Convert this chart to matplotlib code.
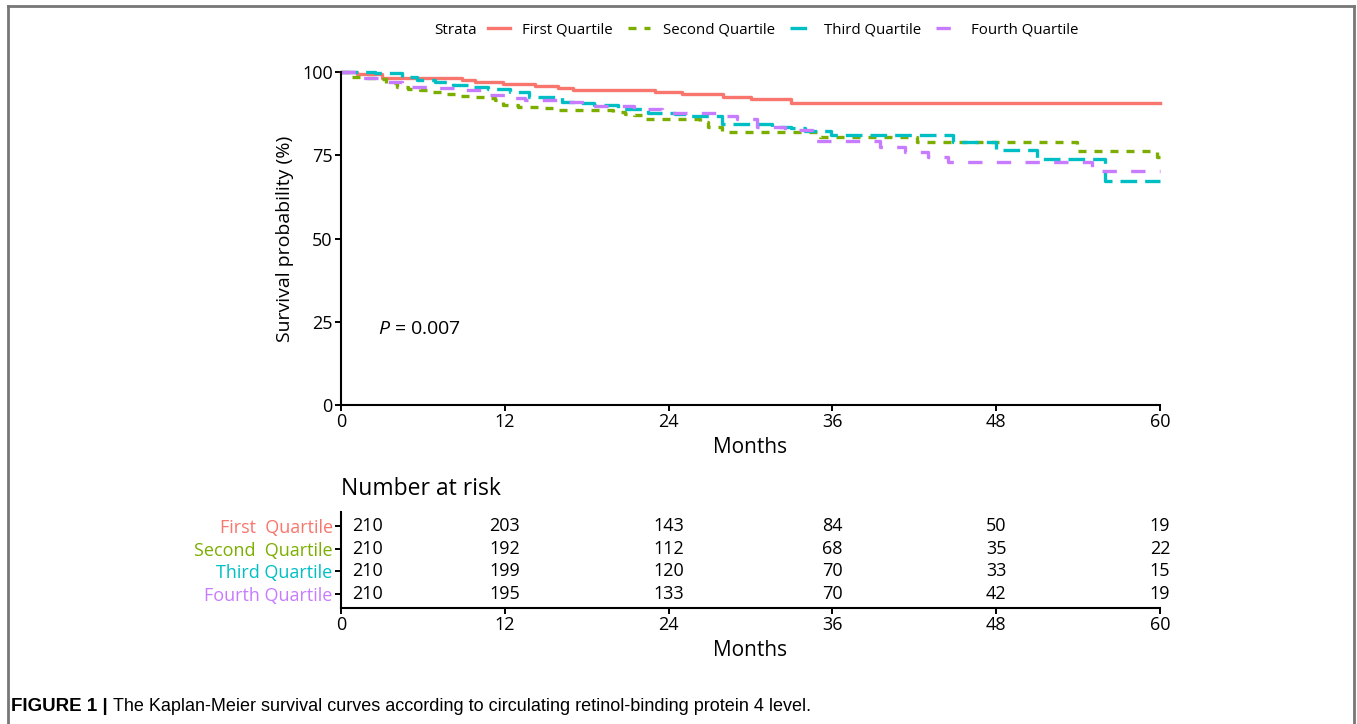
import matplotlib
matplotlib.use("Agg")
import matplotlib.pyplot as plt
from matplotlib.lines import Line2D

plt.rcParams['font.family'] = ['Open Sans', 'DejaVu Sans']
plt.rcParams['mathtext.fontset'] = 'custom'
plt.rcParams['mathtext.it'] = 'Open Sans:italic'
plt.rcParams['mathtext.rm'] = 'Open Sans'

# --- data ---
strata = ["First Quartile", "Second Quartile", "Third Quartile", "Fourth Quartile"]
risk_labels = ["First  Quartile", "Second  Quartile", "Third Quartile", "Fourth Quartile"]
colors = ["#F8766D", "#7CAE00", "#00BFC4", "#C77CFF"]

t_q1 = [0, 1.2, 3, 8.9, 9.8, 11.9, 14.2, 15.9, 17, 23, 25, 28, 30, 33, 60]
s_q1 = [100, 99.4, 98.1, 97.6, 97.1, 96.4, 95.8, 95.3, 94.6, 93.9, 93.3, 92.6, 91.8, 90.8, 90.8]

t_q2 = [0, 0.8, 1.7, 2.7, 3.3, 4.1, 4.9, 5.8, 6.7, 7.7, 8.5, 9.5, 10.5, 11.3, 11.9, 13, 14.5,
        15.8, 19.9, 20.8, 21.5, 22.3, 26.3, 26.9, 27.9, 35.1, 42.2, 53.9, 59.8, 60]
s_q2 = [100, 98.6, 98.3, 97.9, 96.6, 95.6, 94.8, 94.6, 93.9, 93.3, 92.9, 92.4, 92.1, 91.6, 90.1, 89.6, 89.1,
        88.6, 88.1, 87.3, 87.1, 85.9, 85.1, 83.6, 81.9, 80.6, 78.9, 76.4, 74.6, 74.6]

t_q3 = [0, 2.5, 4.5, 5.6, 6.9, 8.2, 9.6, 10.8, 12.4, 13.8, 16.2, 17.2, 18.5, 20.3, 22.5, 24.5,
        25.6, 27.9, 31.6, 33.0, 34.0, 35.9, 44.8, 48, 51, 56, 60]
s_q3 = [100, 99.6, 98.6, 97.6, 96.9, 96.1, 95.4, 94.9, 94.1, 92.6, 91.1, 90.6, 90.1, 88.8, 87.8, 87.3,
        86.9, 84.5, 83.6, 83.3, 82.3, 81.1, 78.9, 76.6, 73.8, 67.3, 67.3]

t_q4 = [0, 1.6, 3.4, 4.5, 6.5, 8.5, 10.5, 12.7, 13.5, 16, 17.8, 21.5, 23.5, 27.5, 29, 30.5,
        32.5, 34.8, 39.5, 41.3, 43, 44.5, 55, 60]
s_q4 = [100, 98.1, 97.1, 95.6, 95.1, 94.6, 93.1, 92.1, 91.6, 90.9, 89.9, 88.8, 87.6, 86.8, 85.9, 83.4,
        82.6, 79.3, 77.6, 76.1, 74.6, 73.1, 70.4, 70.4]

risk_times = [0, 12, 24, 36, 48, 60]
risk_q1 = [210, 203, 143, 84, 50, 19]
risk_q2 = [210, 192, 112, 68, 35, 22]
risk_q3 = [210, 199, 120, 70, 33, 15]
risk_q4 = [210, 195, 133, 70, 42, 19]

p_text = "$P$ = 0.007"
caption_bold = "FIGURE 1 |"
caption = "The Kaplan-Meier survival curves according to circulating retinol-binding protein 4 level."

times = [t_q1, t_q2, t_q3, t_q4]
survs = [s_q1, s_q2, s_q3, s_q4]
risks = [risk_q1, risk_q2, risk_q3, risk_q4]
dashes = [None, (2.4, 2.4), (5.0, 2.4), (4.3, 4.3)]

W, H = 1357, 724
fig = plt.figure(figsize=(W / 100, H / 100), dpi=100)

def px_axes(x0, y0, x1, y1):
    return fig.add_axes([x0 / W, 1 - y1 / H, (x1 - x0) / W, (y1 - y0) / H])

def style(ax):
    for side in ("top", "right"):
        ax.spines[side].set_visible(False)
    for side in ("left", "bottom"):
        ax.spines[side].set_linewidth(1.5)
    ax.tick_params(length=4, width=1.4, labelsize=13, pad=2)

# --- survival curves ---
ax = px_axes(341, 72, 1160, 405)
for t, s, c, d in zip(times, survs, colors, dashes):
    ln, = ax.step(t, s, where="post", color=c, lw=2.4, clip_on=False)
    if d is not None:
        ln.set_dashes(d)
ax.set_xlim(0, 60)
ax.set_ylim(0, 100)
ax.set_xticks(risk_times)
ax.set_yticks([0, 25, 50, 75, 100])
ax.set_xlabel("Months", fontsize=15, labelpad=4)
ax.set_ylabel("Survival probability (%)", fontsize=14, labelpad=6)
ax.text(2.7, 22.8, p_text, fontsize=14, va="center")
style(ax)

# --- risk table ---
rt = px_axes(341, 512, 1160, 608)
rows = [4, 3, 2, 1]
for r, vals in zip(rows, risks):
    for tm, v in zip(risk_times, vals):
        if tm == 0:
            rt.annotate(str(v), (tm, r), xytext=(8, 0), textcoords="offset points",
                        ha="left", va="center", fontsize=13)
        else:
            rt.text(tm, r, str(v), ha="center", va="center", fontsize=13)
rt.set_xlim(0, 60)
rt.set_ylim(0.4, 4.6)
rt.set_xticks(risk_times)
rt.set_yticks(rows)
rt.set_yticklabels(risk_labels)
for lab, c in zip(rt.get_yticklabels(), colors):
    lab.set_color(c)
rt.set_xlabel("Months", fontsize=15, labelpad=4)
style(rt)
fig.text(341 / W, 1 - 489 / H, "Number at risk", fontsize=16.5, va="center", ha="left")

# --- legend ---
fig.text(434 / W, 1 - 30 / H, "Strata", fontsize=11, va="center", ha="left")
leg_handles = []
for c, d in zip(colors, dashes):
    h = Line2D([], [], color=c, lw=2.4)
    if d is not None:
        h.set_dashes(d)
    leg_handles.append(h)
fig.legend(leg_handles, strata, loc="center", bbox_to_anchor=(783 / W, 1 - 30 / H),
           ncol=4, frameon=False, fontsize=10.8, handlelength=1.45, handletextpad=0.85,
           columnspacing=1.0)

# --- frame and caption ---
frame = dict(color="#777777", lw=2, transform=fig.transFigure)
fig.add_artist(Line2D([8 / W, 8 / W], [0, 1 - 6 / H], **frame))
fig.add_artist(Line2D([8 / W, 1354 / W], [1 - 6 / H, 1 - 6 / H], **frame))
fig.add_artist(Line2D([1354 / W, 1354 / W], [0, 1 - 6 / H], **frame))
cap_font = ['Liberation Sans', 'DejaVu Sans']
tb = fig.text(11 / W, 1 - 711 / H, caption_bold, fontsize=13.5, fontweight="bold",
              family=cap_font, va="baseline")
ax.annotate(caption, xy=(1, 0), xycoords=tb, xytext=(4, 0), textcoords="offset points",
            fontsize=13, family=cap_font, va="bottom", ha="left", annotation_clip=False)

fig.savefig("out.png", dpi=100)
